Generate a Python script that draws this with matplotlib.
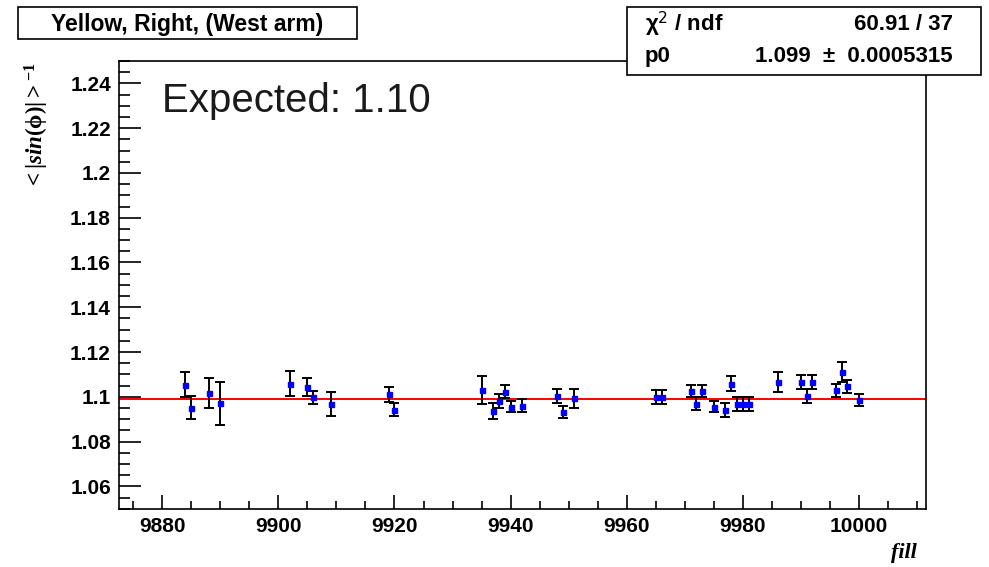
import numpy as np
import matplotlib.pyplot as plt
from matplotlib.patches import Rectangle
from matplotlib.ticker import MultipleLocator

plt.rcParams['font.family'] = ['Liberation Sans', 'DejaVu Sans']
plt.rcParams['mathtext.fontset'] = 'custom'
plt.rcParams['mathtext.rm'] = 'Liberation Serif:bold'
plt.rcParams['mathtext.it'] = 'Liberation Serif:bold:italic'
plt.rcParams['mathtext.bf'] = 'Liberation Serif:bold'

# fill number, <|sin(phi)|>^-1 and its error
fills = [9884, 9885, 9888, 9890, 9902, 9905, 9906, 9909, 9919, 9920,
         9935, 9937, 9938, 9939, 9940, 9942, 9948, 9949, 9951, 9965,
         9966, 9971, 9972, 9973, 9975, 9977, 9978, 9979, 9980, 9981,
         9986, 9990, 9991, 9992, 9996, 9997, 9998, 10000]
vals = [1.1054, 1.0952, 1.1017, 1.0971, 1.1059, 1.1043, 1.0997, 1.0967, 1.1011, 1.0943,
        1.1029, 1.0937, 1.0982, 1.1023, 1.0956, 1.0960, 1.1004, 1.0931, 1.0993, 1.0998,
        1.0998, 1.1027, 1.0969, 1.1027, 1.0956, 1.0942, 1.1059, 1.0967, 1.0967, 1.0967,
        1.1065, 1.1066, 1.1004, 1.1066, 1.1030, 1.1109, 1.1047, 1.0986]
errs = [0.0057, 0.0053, 0.0065, 0.0097, 0.0054, 0.0039, 0.0030, 0.0055, 0.0034, 0.0031,
        0.0062, 0.0037, 0.0030, 0.0030, 0.0026, 0.0030, 0.0030, 0.0028, 0.0041, 0.0031,
        0.0031, 0.0027, 0.0028, 0.0027, 0.0026, 0.0032, 0.0032, 0.0030, 0.0030, 0.0030,
        0.0044, 0.0032, 0.0030, 0.0032, 0.0029, 0.0045, 0.0028, 0.0026]

# constant fit result
p0 = 1.099
p0_err = 0.0005315
chi2 = 60.91
ndf = 37

W, H = 989, 567
fig = plt.figure(figsize=(W / 100, H / 100), dpi=100)


def fx(px):
    return px / W


def fy(py):
    return 1 - py / H


ax = fig.add_axes([fx(119.3), fy(508.7), fx(925.7) - fx(119.3), fy(61) - fy(508.7)])
ax.set_xlim(9872.6, 10011.5)
ax.set_ylim(1.05, 1.25)

ax.axhline(p0, color='red', lw=1.4, zorder=2)
ax.errorbar(fills, vals, yerr=errs, fmt='s', ms=3.6, mfc='blue', mec='blue',
            ecolor='black', elinewidth=1.4, capsize=3.6, capthick=1.4, zorder=3)

for s in ax.spines.values():
    s.set_linewidth(1.2)

ax.xaxis.set_major_locator(MultipleLocator(20))
ax.xaxis.set_minor_locator(MultipleLocator(5))
ax.yaxis.set_major_locator(MultipleLocator(0.02))
ax.yaxis.set_minor_locator(MultipleLocator(0.005))
ax.yaxis.set_major_formatter(plt.FuncFormatter(lambda v, _: f'{v:.2f}'.rstrip('0').rstrip('.')))
ax.tick_params(axis='x', which='major', direction='in', length=10, width=1.2,
               labelsize=15, pad=6)
ax.tick_params(axis='x', which='minor', direction='in', length=5.5, width=1.2)
ax.tick_params(axis='y', which='major', direction='in', length=16, width=1.2,
               labelsize=15, pad=6)
ax.tick_params(axis='y', which='minor', direction='in', length=8, width=1.2)
for lab in ax.get_xticklabels() + ax.get_yticklabels():
    lab.set_fontweight('bold')

ax.text((162 - 119.3) / (925.7 - 119.3), (508.7 - 112) / (508.7 - 61), 'Expected: 1.10',
        transform=ax.transAxes, fontsize=29, color='#1a1a1a', va='baseline', ha='left')

# axis titles
fig.text(fx(37), fy(63), r'$<|sin(\mathrm{\phi})|>^{-1}$', rotation=90, ha='center',
         va='top', fontsize=16.5)
fig.text(fx(917), fy(558), 'fill', ha='right', va='baseline', fontsize=16,
         family='Liberation Serif', weight='bold', style='italic')

# title box
fig.patches.append(Rectangle((fx(17.7), fy(39.3)), fx(357.3) - fx(17.7), fy(7.3) - fy(39.3),
                             transform=fig.transFigure, facecolor='white',
                             edgecolor='black', lw=1.2, zorder=5))
fig.text(fx(187.5), fy(24), 'Yellow, Right, (West arm)', ha='center', va='center',
         fontsize=16.5, weight='bold', zorder=6)

# fit statistics box
fig.patches.append(Rectangle((fx(626.7), fy(75)), fx(980.7) - fx(626.7), fy(7.3) - fy(75),
                             transform=fig.transFigure, facecolor='white',
                             edgecolor='black', lw=1.2, zorder=5))
fig.text(fx(645), fy(24), 'χ$^{\\mathsf{2}}$ / ndf', ha='left', va='center', fontsize=16,
         weight='bold', zorder=6)
fig.text(fx(953), fy(24), f'{chi2:.2f} / {ndf}', ha='right', va='center', fontsize=16,
         weight='bold', zorder=6)
fig.text(fx(645), fy(57), 'p0', ha='left', va='center', fontsize=16,
         weight='bold', zorder=6)
fig.text(fx(953), fy(57), f'{p0:.3f}  ±  {p0_err:.7f}', ha='right', va='center',
         fontsize=16, weight='bold', zorder=6)

fig.savefig('out.png', dpi=100)
